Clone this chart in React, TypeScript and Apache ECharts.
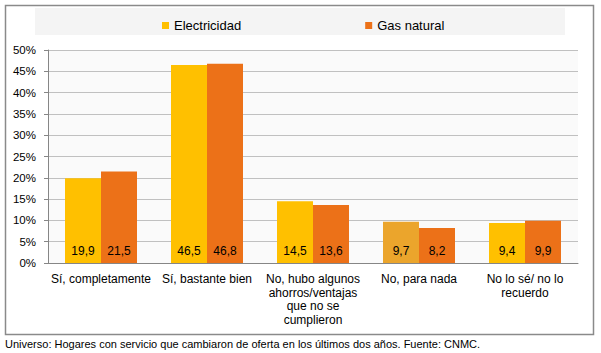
import React, { useEffect, useRef } from "react";
import * as echarts from "echarts";

const categories = [
  "Sí, completamente",
  "Sí, bastante bien",
  "No, hubo algunos\nahorros/ventajas\nque no se\ncumplieron",
  "No, para nada",
  "No lo sé/ no lo\nrecuerdo",
];
const electricidad = [19.9, 46.5, 14.5, 9.7, 9.4];
const gasNatural = [21.5, 46.8, 13.6, 8.2, 9.9];
const seriesNames = ["Electricidad", "Gas natural"];
const footnote =
  "Universo: Hogares con servicio que cambiaron de oferta en los últimos dos años. Fuente: CNMC.";

const FONT = "Arial, 'Liberation Sans', sans-serif";
const C_ELEC = "#FFC000";
const C_ELEC_ALT = "#EBA52C";
const C_GAS = "#EC7118";

export default function App() {
  const ref = useRef<HTMLDivElement>(null);
  useEffect(() => {
    const chart = echarts.init(ref.current!, null, { renderer: "svg" });
    const fmt = (p: any) => Number(p.value).toFixed(1).replace(".", ",");
    chart.setOption({
      animation: false,
      textStyle: { fontFamily: FONT },
      graphic: [
        {
          type: "rect",
          shape: { x: 5.5, y: 5.5, width: 588, height: 329 },
          style: { fill: "#ffffff", stroke: "#8a8a8a", lineWidth: 1.5 },
          z: -10,
        },
        {
          type: "rect",
          shape: { x: 35, y: 8, width: 530, height: 27 },
          style: { fill: "#F4F4F4" },
          z: -9,
        },
        {
          type: "rect",
          shape: { x: 48, y: 50, width: 530, height: 213 },
          style: { fill: "#FAFAFA" },
          z: -9,
        },
        {
          type: "text",
          x: 5,
          y: 344,
          style: {
            text: footnote,
            fontSize: 11,
            fontFamily: FONT,
            fill: "#000",
            verticalAlign: "middle",
          },
        },
      ],
      legend: {
        left: 157,
        top: 14,
        itemWidth: 7,
        itemHeight: 7,
        itemGap: 124,
        icon: "rect",
        textStyle: { fontSize: 13, color: "#000", fontFamily: FONT },
        data: seriesNames,
      },
      grid: { left: 48, right: 23, top: 50, bottom: 90 },
      xAxis: {
        type: "category",
        data: categories,
        axisLine: { lineStyle: { color: "#868686" } },
        axisTick: { length: 4, lineStyle: { color: "#868686" } },
        axisLabel: {
          color: "#000",
          fontSize: 12,
          fontFamily: FONT,
          margin: 9,
          lineHeight: 13.7,
          interval: 0,
        },
      },
      yAxis: {
        type: "value",
        min: 0,
        max: 50,
        interval: 5,
        axisLine: { show: true, lineStyle: { color: "#868686" } },
        axisTick: { show: true, length: 4, lineStyle: { color: "#868686" } },
        splitLine: { lineStyle: { color: "#C0C0C0" } },
        axisLabel: {
          color: "#000",
          fontSize: 11.5,
          fontFamily: FONT,
          margin: 12,
          formatter: "{value}%",
        },
      },
      series: [
        {
          name: seriesNames[0],
          type: "bar",
          data: electricidad.map((v, i) =>
            i === 3 ? { value: v, itemStyle: { color: C_ELEC_ALT } } : v
          ),
          itemStyle: { color: C_ELEC },
          barWidth: 36,
          barGap: "0%",
          label: {
            show: true,
            position: "insideBottom",
            distance: 6,
            formatter: fmt,
            color: "#000",
            fontSize: 12,
            fontFamily: FONT,
          },
        },
        {
          name: seriesNames[1],
          type: "bar",
          data: gasNatural,
          itemStyle: { color: C_GAS },
          barWidth: 36,
          barGap: "0%",
          label: {
            show: true,
            position: "insideBottom",
            distance: 6,
            formatter: fmt,
            color: "#000",
            fontSize: 12,
            fontFamily: FONT,
          },
        },
      ],
    });
    return () => chart.dispose();
  }, []);
  return (
    <div
      ref={ref}
      style={{ position: "absolute", left: 0, top: 0, width: 601, height: 353 }}
    />
  );
}
